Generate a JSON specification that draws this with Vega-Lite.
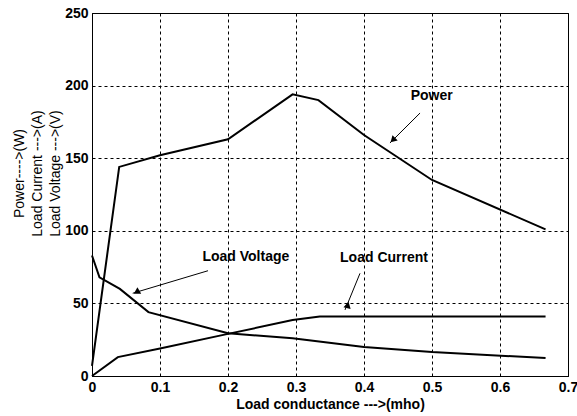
{
  "$schema": "https://vega.github.io/schema/vega-lite/v6.json",
  "width": 476,
  "height": 363,
  "autosize": {"type": "none"},
  "padding": {"left": 92, "top": 13, "right": 9, "bottom": 40},
  "background": "white",
  "config": {
    "view": {"stroke": "black", "strokeWidth": 1},
    "font": "Liberation Sans"
  },
  "datasets": {
    "curves": [
      {"g": 0, "value": 7, "series": "Power"},
      {"g": 0.04, "value": 144, "series": "Power"},
      {"g": 0.1, "value": 152, "series": "Power"},
      {"g": 0.2, "value": 163, "series": "Power"},
      {"g": 0.295, "value": 194, "series": "Power"},
      {"g": 0.333, "value": 190, "series": "Power"},
      {"g": 0.4, "value": 166, "series": "Power"},
      {"g": 0.5, "value": 135, "series": "Power"},
      {"g": 0.667, "value": 101, "series": "Power"},
      {"g": 0, "value": 83, "series": "Load Voltage"},
      {"g": 0.011, "value": 68, "series": "Load Voltage"},
      {"g": 0.041, "value": 60, "series": "Load Voltage"},
      {"g": 0.083, "value": 44, "series": "Load Voltage"},
      {"g": 0.2, "value": 29.4, "series": "Load Voltage"},
      {"g": 0.295, "value": 26, "series": "Load Voltage"},
      {"g": 0.4, "value": 20, "series": "Load Voltage"},
      {"g": 0.5, "value": 16.5, "series": "Load Voltage"},
      {"g": 0.667, "value": 12.4, "series": "Load Voltage"},
      {"g": 0, "value": 0, "series": "Load Current"},
      {"g": 0.038, "value": 13, "series": "Load Current"},
      {"g": 0.1, "value": 19, "series": "Load Current"},
      {"g": 0.2, "value": 29, "series": "Load Current"},
      {"g": 0.295, "value": 38.5, "series": "Load Current"},
      {"g": 0.335, "value": 41, "series": "Load Current"},
      {"g": 0.4, "value": 41, "series": "Load Current"},
      {"g": 0.667, "value": 41, "series": "Load Current"}
    ],
    "notes": [
      {"label": "Power", "tx": 0.4996, "ty": 193.0, "x1": 0.4824, "y1": 181.1, "x2": 0.4382, "y2": 160.5, "hx": 0.4424, "hy": 162.5},
      {"label": "Load Voltage", "tx": 0.2262, "ty": 82.2, "x1": 0.1706, "y1": 72.5, "x2": 0.0599, "y2": 57.0, "hx": 0.0655, "hy": 57.75},
      {"label": "Load Current", "tx": 0.4294, "ty": 81.1, "x1": 0.3941, "y1": 70.7, "x2": 0.3721, "y2": 45.5, "hx": 0.3743, "hy": 48.0}
    ]
  },
  "layer": [
    {
      "data": {"name": "curves"},
      "mark": {"type": "line", "color": "black", "strokeWidth": 2},
      "encoding": {
        "x": {
          "field": "g", "type": "quantitative",
          "scale": {"domain": [0, 0.7], "nice": false, "zero": false},
          "axis": {
            "values": [0, 0.1, 0.2, 0.3, 0.4, 0.5, 0.6, 0.7],
            "format": ".1~f",
            "title": "Load conductance --->(mho)",
            "titleFont": "Liberation Sans", "titleFontSize": 14, "titleFontWeight": "bold", "titleColor": "black",
            "titlePadding": 3,
            "labelFont": "Liberation Sans", "labelFontSize": 14, "labelFontWeight": "bold", "labelColor": "black",
            "labelPadding": 4, "labelFlush": false, "labelOverlap": false,
            "ticks": false,
            "domainColor": "black",
            "grid": true, "gridColor": "black", "gridDash": [3, 3], "gridWidth": 1, "gridOpacity": 1
          }
        },
        "y": {
          "field": "value", "type": "quantitative",
          "scale": {"domain": [0, 250], "nice": false},
          "axis": {
            "values": [0, 50, 100, 150, 200, 250],
            "title": ["Power---->(W)", "Load Current --->(A)", "Load Voltage --->(V)"],
            "titleFont": "Liberation Sans", "titleFontSize": 14, "titleFontWeight": "normal", "titleColor": "black",
            "titleAngle": 270, "titleBaseline": "top", "titleAlign": "center",
            "titleLineHeight": 18, "titleX": -80, "titleY": 160,
            "labelFont": "Liberation Sans", "labelFontSize": 14, "labelFontWeight": "bold", "labelColor": "black",
            "labelPadding": 4, "labelFlush": false, "labelOverlap": false,
            "ticks": false,
            "domainColor": "black",
            "grid": true, "gridColor": "black", "gridDash": [3, 3], "gridWidth": 1, "gridOpacity": 1
          }
        },
        "detail": {"field": "series", "type": "nominal"},
        "order": {"field": "g", "type": "quantitative"}
      }
    },
    {
      "data": {"name": "notes"},
      "mark": {"type": "rule", "color": "black", "strokeWidth": 1},
      "encoding": {
        "x": {"field": "x1", "type": "quantitative"},
        "y": {"field": "y1", "type": "quantitative"},
        "x2": {"field": "x2"},
        "y2": {"field": "y2"}
      }
    },
    {
      "data": {"name": "notes"},
      "mark": {"type": "point", "shape": "triangle-up", "filled": true, "color": "black", "size": 55, "opacity": 1},
      "encoding": {
        "x": {"field": "hx", "type": "quantitative"},
        "y": {"field": "hy", "type": "quantitative"},
        "angle": {
          "field": "label", "type": "nominal",
          "scale": {"domain": ["Power", "Load Voltage", "Load Current"], "range": [225, 253.3, 202.2]},
          "legend": null
        }
      }
    },
    {
      "data": {"name": "notes"},
      "mark": {"type": "text", "font": "Liberation Sans", "fontSize": 14, "fontWeight": "bold", "color": "black", "align": "center", "baseline": "middle"},
      "encoding": {
        "x": {"field": "tx", "type": "quantitative"},
        "y": {"field": "ty", "type": "quantitative"},
        "text": {"field": "label", "type": "nominal"}
      }
    }
  ]
}
